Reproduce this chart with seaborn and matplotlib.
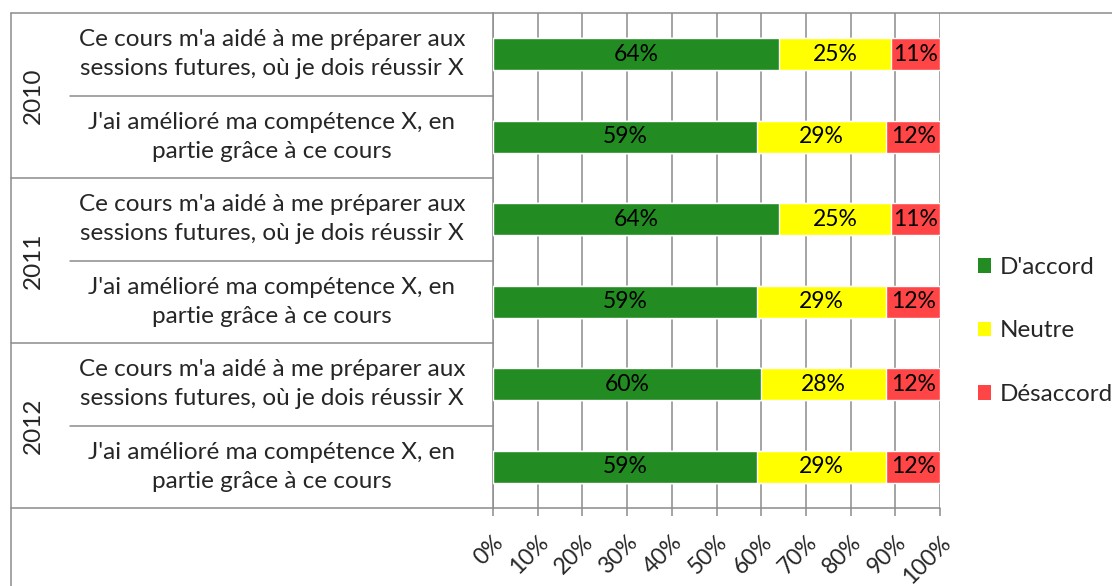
# Graphique à barres empilées 100 % : réponses au questionnaire par année
import numpy as np
import pandas as pd
import matplotlib
matplotlib.use('Agg')
import matplotlib.pyplot as plt
import matplotlib.transforms as mtransforms
from matplotlib.patches import Patch
import seaborn as sns

# données
years = ['2010', '2011', '2012']
questions = ["Ce cours m'a aidé à me préparer aux\nsessions futures, où je dois réussir X",
             "J'ai amélioré ma compétence X, en\npartie grâce à ce cours"]
accord = [64, 59, 64, 59, 60, 59]
neutre = [25, 29, 25, 29, 28, 29]
desaccord = [11, 12, 11, 12, 12, 12]
series_names = ["D'accord", "Neutre", "Désaccord"]
x_ticks = [0, 10, 20, 30, 40, 50, 60, 70, 80, 90, 100]

colors = ['#228B22', '#FFFF00', '#FF4545']
line_col = '#8c8c8c'

sns.set_style('white')
plt.rcParams['font.family'] = ['Lato', 'DejaVu Sans']
FS = 17.5

rows = [f"{y} | {q}" for y in years for q in questions]
df = pd.DataFrame({
    'row': rows,
    'accord': accord,
    'neutre': neutre,
    'desaccord': desaccord,
})
# cumul pour l'empilement
df['c1'] = df['accord']
df['c2'] = df['accord'] + df['neutre']
df['c3'] = df['c2'] + df['desaccord']

fig = plt.figure(figsize=(11.12, 5.86), dpi=100)
W, H = 1112, 586
ax = fig.add_axes([493 / W, 1 - 508 / H, (940 - 493) / W, (508 - 13) / H])

# barres : total d'abord, puis les cumuls partiels par-dessus
for col, c in zip(['c3', 'c2', 'c1'], colors[::-1]):
    sns.barplot(data=df, x=col, y='row', order=rows, orient='h', color=c,
                saturation=1, width=0.39, errorbar=None, ax=ax, zorder=3)

# étiquettes des valeurs
for i in range(len(rows)):
    starts = [0, accord[i], accord[i] + neutre[i]]
    vals = [accord[i], neutre[i], desaccord[i]]
    for s, v in zip(starts, vals):
        ax.text(s + v / 2, i, f"{v}%", ha='center', va='center', fontsize=16.5,
                color='black', zorder=4)

ax.set_xlim(0, 100)
ax.set_ylim(len(rows) - 0.5, -0.5)
ax.set_xticks(x_ticks)
ax.set_xticklabels([f"{v}%" for v in x_ticks], rotation=45, ha='right',
                   rotation_mode='anchor', fontsize=16.5)
ax.tick_params(axis='x', direction='out', length=6, width=1.1, color=line_col,
               pad=11, bottom=True)
ax.set_yticks([])
ax.set_xlabel('')
ax.set_ylabel('')
ax.grid(axis='x', color=line_col, linewidth=1.1, zorder=0)
ax.set_axisbelow(True)
for sp in ['top', 'right']:
    ax.spines[sp].set_visible(False)
ax.spines['left'].set_color(line_col)
ax.spines['left'].set_linewidth(1.1)
ax.spines['bottom'].set_visible(False)

# tableau des catégories à gauche
tr = mtransforms.blended_transform_factory(fig.transFigure, ax.transData)
x_out = 11 / W
x_in = 70 / W
x_ax = 493 / W
lw = 1.1
n_q = len(questions)
for g in range(len(years) + 1):
    yb = g * n_q - 0.5
    x_end = 940 / W if g == len(years) else x_ax
    if g == 0:
        x_end = 1.0
    fig.add_artist(plt.Line2D([x_out, x_end], [yb, yb], transform=tr,
                              color=line_col, lw=lw, clip_on=False))
for g in range(len(years)):
    yb = g * n_q + 0.5
    fig.add_artist(plt.Line2D([x_in, x_ax], [yb, yb], transform=tr,
                              color=line_col, lw=lw, clip_on=False))
fig.add_artist(plt.Line2D([x_out, x_out], [0, 1 - 13 / H], transform=fig.transFigure,
                          color=line_col, lw=lw))

for g, y in enumerate(years):
    fig.text(33 / W, g * n_q + 0.5, y, transform=tr, rotation=90,
             ha='center', va='center', fontsize=FS)
for i, r in enumerate(rows):
    q = questions[i % n_q]
    fig.text(272 / W, i, q, transform=tr, ha='center', va='center',
             multialignment='center', fontsize=FS, linespacing=1.45)

# légende
handles = [Patch(facecolor=c, edgecolor='none') for c in colors]
fig.legend(handles, series_names, loc='center left',
           bbox_to_anchor=(978 / W, 1 - 331 / H), frameon=False, fontsize=FS,
           handlelength=0.55, handleheight=0.55, handletextpad=0.35,
           labelspacing=1.75, borderpad=0, borderaxespad=0)

fig.savefig('out.png', dpi=100)
